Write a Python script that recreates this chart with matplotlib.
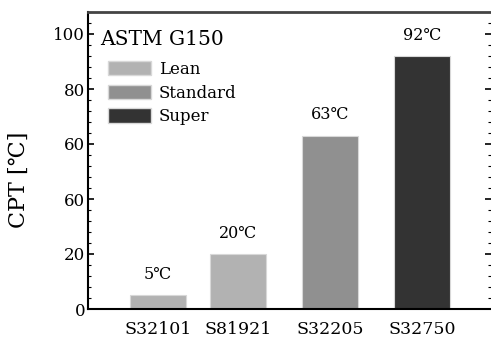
import matplotlib
matplotlib.use("Agg")
import matplotlib.pyplot as plt
from matplotlib.patches import Patch
from matplotlib.ticker import MultipleLocator, FixedLocator

plt.rcParams['font.family'] = ['DejaVu Serif', 'Noto Sans CJK KR']

# data
grades = ["S32101", "S81921", "S32205", "S32750"]
cpt = [5, 20, 63, 92]
bar_labels = ["5\u2103", "20\u2103", "63\u2103", "92\u2103"]
classes = ["Lean", "Lean", "Standard", "Super"]
xpos = [1.0, 2.0, 3.15, 4.3]
yticks = [0, 20, 40, 60, 80, 100]
ytick_labels = ["0", "20", "60", "60", "80", "100"]

colors = {"Lean": "#b2b2b2", "Standard": "#909090", "Super": "#333333"}

fig = plt.figure(figsize=(4.91, 3.37), dpi=100)
ax = fig.add_axes([88/491, 28/337, 403/491, 297/337])

bar_colors = [colors[c] for c in classes]
ax.bar(xpos, cpt, width=0.7, color=bar_colors, edgecolor="#d8d8d8", linewidth=0.8)

for x, v, lab in zip(xpos, cpt, bar_labels):
    ax.text(x, v + 4.5, lab, ha="center", va="bottom", fontsize=11.5)

ax.set_xlim(0.125, 5.16)
ax.set_ylim(0, 108)
ax.set_xticks(xpos)
ax.set_xticklabels(grades, fontsize=12.5)
ax.tick_params(axis="x", length=0, pad=9)
ax.yaxis.set_major_locator(FixedLocator(yticks))
ax.set_yticklabels(ytick_labels, fontsize=12)
ax.yaxis.set_minor_locator(MultipleLocator(4))
ax.tick_params(axis="y", which="major", direction="in", length=4, width=1.2,
               right=True, pad=2)
ax.tick_params(axis="y", which="minor", direction="in", length=2, width=0.8,
               right=True)
ax.set_ylabel("CPT [\u2103]", fontsize=16)
ax.yaxis.set_label_coords(-0.145, 0.435)

ax.spines["left"].set_linewidth(1.5)
ax.spines["bottom"].set_linewidth(1.5)
ax.spines["top"].set_linewidth(2)
ax.spines["top"].set_color("#444444")
ax.spines["right"].set_linewidth(0.6)
ax.spines["right"].set_color("#bbbbbb")
ax.spines["right"].set_linestyle(":")

ax.text(0.03, 0.94, "ASTM G150", transform=ax.transAxes, ha="left", va="top",
        fontsize=14.5)

handles = [Patch(facecolor=colors[k], edgecolor="#d8d8d8") for k in ["Lean", "Standard", "Super"]]
ax.legend(handles, ["Lean", "Standard", "Super"], loc="upper left",
          bbox_to_anchor=(0.05, 0.835), frameon=False, fontsize=12,
          handlelength=2.6, handleheight=0.95, labelspacing=0.4,
          handletextpad=0.45, borderaxespad=0, borderpad=0)

fig.savefig("out.png", dpi=100)
